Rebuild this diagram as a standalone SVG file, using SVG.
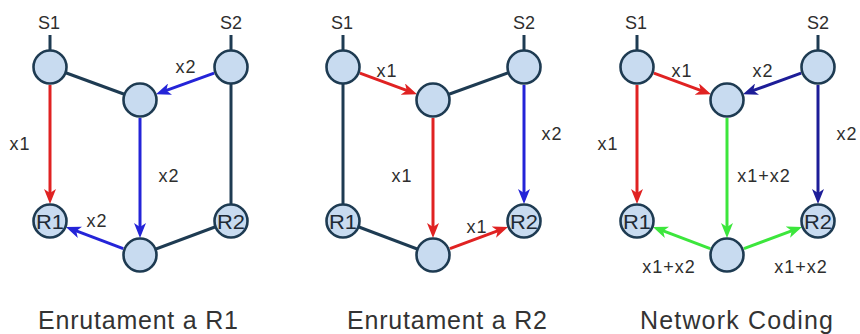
<svg xmlns="http://www.w3.org/2000/svg" width="860" height="334" viewBox="0 0 860 334">
<style>
.nd{fill:#c8dbf0;stroke:#1e3b52;stroke-width:2.6}
.ln{stroke:#1e3b52;stroke-width:3;fill:none}
.red{stroke:#e02222;stroke-width:3;fill:none;marker-end:url(#ar)}
.blu{stroke:#2424d8;stroke-width:3;fill:none;marker-end:url(#ab)}
.dbl{stroke:#1d1d98;stroke-width:3;fill:none;marker-end:url(#ad)}
.grn{stroke:#3ce63c;stroke-width:3;fill:none;marker-end:url(#ag)}
.lb{font-family:"Liberation Sans",Arial,sans-serif;font-size:18px;fill:#2e2e2e;text-anchor:middle;letter-spacing:1px}
.sl{font-family:"Liberation Sans",Arial,sans-serif;font-size:18px;fill:#2e2e2e;text-anchor:middle}
.rl{font-family:"Liberation Sans",Arial,sans-serif;font-size:21px;fill:#1e2a35;text-anchor:middle}
.cap{font-family:"Liberation Sans",Arial,sans-serif;font-size:25px;fill:#333333;text-anchor:middle}
</style>
<defs>
<marker id="ar" markerUnits="userSpaceOnUse" markerWidth="15" markerHeight="12" refX="6" refY="6" orient="auto"><path d="M0,0 L15,6 L0,12 L4,6 Z" fill="#e02222"/></marker>
<marker id="ab" markerUnits="userSpaceOnUse" markerWidth="15" markerHeight="12" refX="6" refY="6" orient="auto"><path d="M0,0 L15,6 L0,12 L4,6 Z" fill="#2424d8"/></marker>
<marker id="ad" markerUnits="userSpaceOnUse" markerWidth="15" markerHeight="12" refX="6" refY="6" orient="auto"><path d="M0,0 L15,6 L0,12 L4,6 Z" fill="#1d1d98"/></marker>
<marker id="ag" markerUnits="userSpaceOnUse" markerWidth="15" markerHeight="12" refX="6" refY="6" orient="auto"><path d="M0,0 L15,6 L0,12 L4,6 Z" fill="#3ce63c"/></marker>
</defs>
<rect width="860" height="334" fill="#ffffff"/>
<g id="connectors">
  <g id="conn-p1">
    <line class="ln" x1="50" y1="35" x2="50" y2="50"/>
    <line class="ln" x1="231" y1="35" x2="231" y2="50"/>
    <line class="ln" x1="50" y1="67" x2="140" y2="100"/>
    <line class="ln" x1="231" y1="67" x2="231" y2="221"/>
    <line class="ln" x1="231" y1="221" x2="140" y2="255"/>
    <line class="blu" x1="214.1" y1="73.1" x2="164.4" y2="91.2"/>
    <line class="red" x1="50" y1="85" x2="50" y2="195"/>
    <line class="blu" x1="140" y1="118" x2="140" y2="229"/>
    <line class="blu" x1="123.2" y1="248.6" x2="74.3" y2="230.2"/>
  </g>
  <g id="conn-p2" transform="translate(293,0)">
    <line class="ln" x1="50" y1="35" x2="50" y2="50"/>
    <line class="ln" x1="231" y1="35" x2="231" y2="50"/>
    <line class="ln" x1="50" y1="67" x2="50" y2="221"/>
    <line class="ln" x1="50" y1="221" x2="140" y2="255"/>
    <line class="ln" x1="140" y1="100" x2="231" y2="67"/>
    <line class="red" x1="66.9" y1="73.2" x2="115.6" y2="91.1"/>
    <line class="red" x1="140" y1="118" x2="140" y2="229"/>
    <line class="red" x1="156.9" y1="248.7" x2="206.6" y2="230.1"/>
    <line class="blu" x1="231" y1="85" x2="231" y2="195"/>
  </g>
  <g id="conn-p3" transform="translate(587,0)">
    <line class="ln" x1="50" y1="35" x2="50" y2="50"/>
    <line class="ln" x1="231" y1="35" x2="231" y2="50"/>
    <line class="red" x1="66.9" y1="73.2" x2="115.6" y2="91.1"/>
    <line class="dbl" x1="214.1" y1="73.1" x2="164.4" y2="91.2"/>
    <line class="red" x1="50" y1="85" x2="50" y2="195"/>
    <line class="dbl" x1="231" y1="85" x2="231" y2="195"/>
    <line class="grn" x1="140" y1="118" x2="140" y2="229"/>
    <line class="grn" x1="123.2" y1="248.6" x2="74.3" y2="230.2"/>
    <line class="grn" x1="156.9" y1="248.7" x2="206.6" y2="230.1"/>
  </g>
</g>
<g id="edge-labels">
  <text class="lb" x="186" y="73">x2</text>
  <text class="lb" x="20" y="150">x1</text>
  <text class="lb" x="169" y="182">x2</text>
  <text class="lb" x="97" y="227">x2</text>
  <text class="lb" x="387" y="77">x1</text>
  <text class="lb" x="402" y="182">x1</text>
  <text class="lb" x="477" y="233">x1</text>
  <text class="lb" x="552" y="140">x2</text>
  <text class="lb" x="682" y="77">x1</text>
  <text class="lb" x="763" y="77">x2</text>
  <text class="lb" x="608" y="150">x1</text>
  <text class="lb" x="764" y="182">x1+x2</text>
  <text class="lb" x="847" y="140">x2</text>
  <text class="lb" x="669" y="273">x1+x2</text>
  <text class="lb" x="801" y="273">x1+x2</text>
</g>
<g id="p1">
  <g id="p1-s1"><circle class="nd" cx="50" cy="67" r="16.5"/><text class="sl" x="49" y="29">S1</text></g>
  <g id="p1-s2"><circle class="nd" cx="231" cy="67" r="16.5"/><text class="sl" x="231" y="29">S2</text></g>
  <g id="p1-m1"><circle class="nd" cx="140" cy="100" r="16.5"/></g>
  <g id="p1-r1"><circle class="nd" cx="50" cy="221" r="16.5"/><text class="rl" x="50" y="228.5" textLength="28" lengthAdjust="spacingAndGlyphs">R1</text></g>
  <g id="p1-r2"><circle class="nd" cx="231" cy="221" r="16.5"/><text class="rl" x="231" y="228.5" textLength="28" lengthAdjust="spacingAndGlyphs">R2</text></g>
  <g id="p1-m2"><circle class="nd" cx="140" cy="255" r="16.5"/></g>
  <text class="cap" x="138" y="329" textLength="200" lengthAdjust="spacing">Enrutament a R1</text>
</g>
<g id="p2">
  <g id="p2-s1"><circle class="nd" cx="343" cy="67" r="16.5"/><text class="sl" x="342" y="29">S1</text></g>
  <g id="p2-s2"><circle class="nd" cx="524" cy="67" r="16.5"/><text class="sl" x="524" y="29">S2</text></g>
  <g id="p2-m1"><circle class="nd" cx="433" cy="100" r="16.5"/></g>
  <g id="p2-r1"><circle class="nd" cx="343" cy="221" r="16.5"/><text class="rl" x="343" y="228.5" textLength="28" lengthAdjust="spacingAndGlyphs">R1</text></g>
  <g id="p2-r2"><circle class="nd" cx="524" cy="221" r="16.5"/><text class="rl" x="524" y="228.5" textLength="28" lengthAdjust="spacingAndGlyphs">R2</text></g>
  <g id="p2-m2"><circle class="nd" cx="433" cy="255" r="16.5"/></g>
  <text class="cap" x="447" y="329" textLength="200" lengthAdjust="spacing">Enrutament a R2</text>
</g>
<g id="p3">
  <g id="p3-s1"><circle class="nd" cx="637" cy="67" r="16.5"/><text class="sl" x="636" y="29">S1</text></g>
  <g id="p3-s2"><circle class="nd" cx="818" cy="67" r="16.5"/><text class="sl" x="818" y="29">S2</text></g>
  <g id="p3-m1"><circle class="nd" cx="727" cy="100" r="16.5"/></g>
  <g id="p3-r1"><circle class="nd" cx="637" cy="221" r="16.5"/><text class="rl" x="637" y="228.5" textLength="28" lengthAdjust="spacingAndGlyphs">R1</text></g>
  <g id="p3-r2"><circle class="nd" cx="818" cy="221" r="16.5"/><text class="rl" x="818" y="228.5" textLength="28" lengthAdjust="spacingAndGlyphs">R2</text></g>
  <g id="p3-m2"><circle class="nd" cx="727" cy="255" r="16.5"/></g>
  <text class="cap" x="736.5" y="329" textLength="193" lengthAdjust="spacing">Network Coding</text>
</g>
</svg>
